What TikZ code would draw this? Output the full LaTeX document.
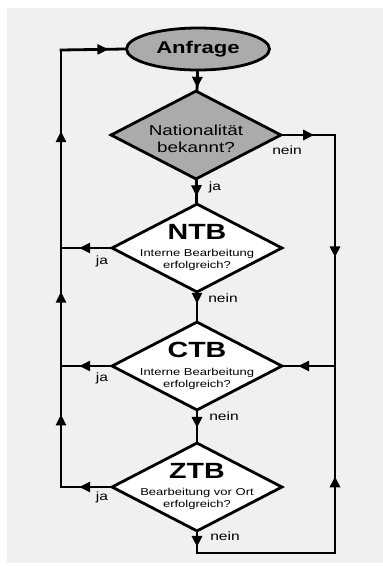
\documentclass[tikz,border=0pt]{standalone}
\usepackage{fontspec}
\usepackage{tikz}
\usetikzlibrary{shapes.geometric, arrows.meta, decorations.markings}

\newfontfamily\chartfont{Liberation Sans}[FakeStretch=1.3]

\tikzset{
  flow/.style = {black, line width = 2.8pt, line cap = rect},
  arrowat/.style = {postaction = {decorate},
    decoration = {markings, mark = at position #1 with {\arrow{Triangle[length = 11pt, width = 10pt]}}}},
  startnode/.style = {ellipse, draw, line width = 2.8pt, fill = black!33,
    minimum width = 143pt, minimum height = 42pt, inner sep = 0pt,
    font = \chartfont\bfseries\fontsize{17}{19}\selectfont},
  decision/.style = {diamond, draw, line width = 2.8pt, aspect = 1.95,
    minimum width = 171pt, minimum height = 89pt, inner sep = 0pt},
  titletext/.style = {anchor = base, inner sep = 0pt,
    font = \chartfont\bfseries\fontsize{22}{24}\selectfont},
  subtext/.style = {anchor = base, align = center, inner sep = 0pt,
    font = \chartfont\fontsize{10}{12}\selectfont},
  answer/.style = {inner sep = 0pt, font = \chartfont\fontsize{12}{14}\selectfont}
}

\begin{document}
\begin{tikzpicture}[x = 1pt, y = -1pt]
\useasboundingbox (0, 0) rectangle (383, 566);
\fill[black!6] (7, 8) rectangle (383, 563);

% boxes
\node[startnode] (anfrage) at (198, 49) {Anfrage};
\node[decision, fill = black!33] (nat) at (196, 135) {};
\node[decision, fill = white] (ntb) at (197, 248) {};
\node[decision, fill = white] (ctb) at (197, 366) {};
\node[decision, fill = white] (ztb) at (197, 487) {};

\node[anchor = base, align = center, inner sep = 0pt,
  font = \chartfont\fontsize{14.5}{17}\selectfont] (nattext) at (196, 152) {Nationalität\\bekannt?};

\node[titletext] (ntbtitle) at (197, 239) {NTB};
\node[subtext] (ntbtext) at (197, 268) {Interne Bearbeitung\\erfolgreich?};
\node[titletext] (ctbtitle) at (197, 357) {CTB};
\node[subtext] (ctbtext) at (197, 387) {Interne Bearbeitung\\erfolgreich?};
\node[titletext] (ztbtitle) at (197, 478) {ZTB};
\node[subtext] (ztbtext) at (197, 507) {Bearbeitung vor Ort\\erfolgreich?};

% corners
\coordinate (lt) at (61, 50);
\coordinate (lb) at (61, 487);
\coordinate (rt) at (335, 135);
\coordinate (rm) at (335, 366);
\coordinate (rb) at (335, 553);
\coordinate (bb) at (197, 553);

% middle line
\draw[flow, arrowat = 0.9] (anfrage) -- (nat);
\draw[flow, arrowat = 0.72] (nat) -- (ntb);
\draw[flow, arrowat = 0.38] (ntb) -- (ctb);
\draw[flow, arrowat = 0.55] (ctb) -- (ztb);
\draw[flow, arrowat = 0.7] (ztb) -- (bb);

% left loop
\draw[flow, arrowat = 0.63] (ntb.west) -- (lt |- ntb.west);
\draw[flow, arrowat = 0.63] (ctb.west) -- (lt |- ctb.west);
\draw[flow, arrowat = 0.63] (ztb.west) -- (lb);
\draw[flow, arrowat = 0.6] (lb) -- (lt |- ctb.west);
\draw[flow, arrowat = 0.63] (lt |- ctb.west) -- (lt |- ntb.west);
\draw[flow, arrowat = 0.59] (lt |- ntb.west) -- (lt);
\draw[flow, arrowat = 0.74] (lt) -- (anfrage.west);

% right loop
\draw[flow, arrowat = 0.6] (nat.east) -- (rt);
\draw[flow, arrowat = 0.53] (rt) -- (rm);
\draw[flow, arrowat = 0.72] (rm) -- (ctb.east);
\draw[flow] (bb) -- (rb);
\draw[flow, arrowat = 0.41] (rb) -- (rm);

% answers
\node[answer] (natnein) at (287, 150) {nein};
\node[answer] (natja) at (215, 187) {ja};
\node[answer] (ntbja) at (102, 261) {ja};
\node[answer] (ntbnein) at (223, 298) {nein};
\node[answer] (ctbja) at (102, 378) {ja};
\node[answer] (ctbnein) at (224, 416) {nein};
\node[answer] (ztbja) at (102, 497) {ja};
\node[answer] (ztbnein) at (225, 536) {nein};
\end{tikzpicture}
\end{document}
